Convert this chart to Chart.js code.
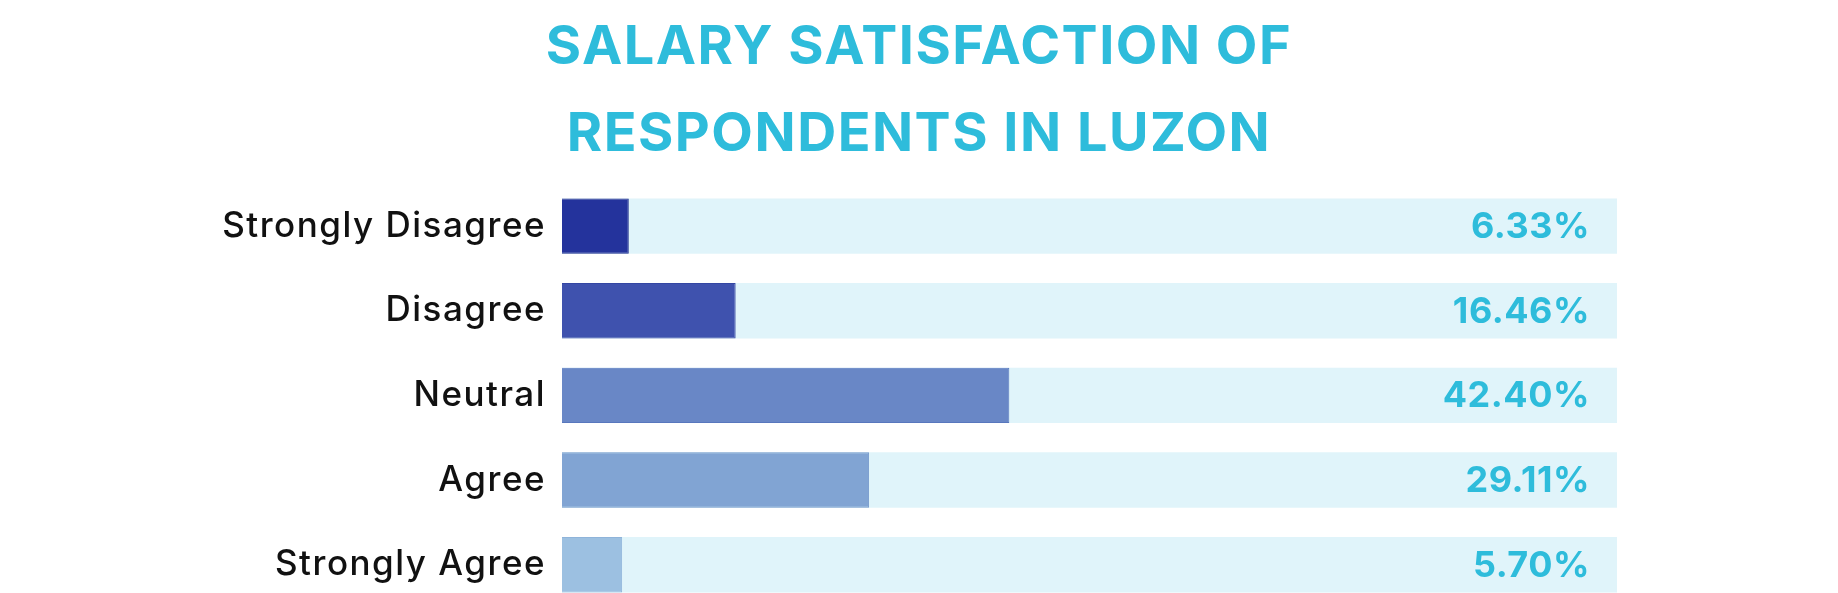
<!DOCTYPE html>
<html>
<head>
<meta charset="utf-8">
<script src="https://cdn.jsdelivr.net/npm/chart.js@4.4.1/dist/chart.umd.min.js"></script>
<style>
    html, body { margin: 0; padding: 0; background: #ffffff; overflow: hidden; }
    #clip { width: 1838px; height: 593px; overflow: hidden; position: relative; }
    #wrap { position: relative; width: 1838px; height: 644px; }
</style>
</head>
<body>
<div id="clip"><div id="wrap"><canvas id="barChart"></canvas></div></div>
<script>
// Datos del gráfico
const categories = ['Strongly Disagree', 'Disagree', 'Neutral', 'Agree', 'Strongly Agree'];
const shares = [6.33, 16.46, 42.40, 29.11, 5.70];
const trackMax = [100, 100, 100, 100, 100];
const titleLines = ['SALARY SATISFACTION OF', 'RESPONDENTS IN LUZON'];

const barColors = ['#24339c', '#3f52ae', '#6987c6', '#81a4d3', '#9cc0e1'];
const barBorders = ['#1d2b8c', '#3446a3', '#5877bd', '#7397cb', '#8fb4da'];
const accent = '#2ebcdb';

// Espaciado de letras para acercarse a la tipografía original
const spacing = {
    id: 'spacing',
    beforeDraw(chart) { chart.ctx.letterSpacing = '1.5px'; }
};

// Etiquetas de porcentaje al final de cada pista
const valueLabels = {
    id: 'valueLabels',
    afterDatasetsDraw(chart) {
        const ctx = chart.ctx;
        const meta = chart.getDatasetMeta(1);
        ctx.save();
        ctx.letterSpacing = '0.5px';
        ctx.font = '700 36px Inter';
        ctx.fillStyle = accent;
        ctx.textAlign = 'right';
        ctx.textBaseline = 'middle';
        meta.data.forEach((bar, i) => {
            ctx.fillText(shares[i].toFixed(2) + '%', chart.chartArea.right - 27, bar.y + 1);
        });
        ctx.restore();
    }
};

const chart = new Chart(document.getElementById('barChart'), {
    type: 'bar',
    data: {
        labels: categories,
        datasets: [{
            data: shares,
            backgroundColor: barColors,
            borderColor: barBorders,
            borderWidth: 1,
            order: 1
        }, {
            data: trackMax,
            backgroundColor: '#e0f4fa',
            borderWidth: 0,
            order: 2
        }]
    },
    options: {
        indexAxis: 'y',
        responsive: true,
        maintainAspectRatio: false,
        animation: false,
        layout: { autoPadding: false, padding: 0 },
        datasets: {
            bar: { grouped: false, barPercentage: 1, categoryPercentage: 0.655 }
        },
        plugins: {
            legend: { display: false },
            tooltip: { enabled: false },
            title: {
                display: true,
                text: titleLines,
                color: accent,
                font: { family: 'Inter', size: 54, weight: '700', lineHeight: 1.6 },
                padding: { top: 5, bottom: 6 }
            }
        },
        scales: {
            x: { display: false, min: 0, max: 100 },
            y: {
                grid: { display: false, drawTicks: false },
                border: { display: false },
                ticks: {
                    color: '#111111',
                    padding: 16,
                    font: { family: 'Inter', size: 35, weight: '500' }
                },
                afterFit(scale) { scale.width = 562; }
            },
            // eje vacío a la derecha para dejar el margen blanco
            yRight: {
                type: 'category',
                position: 'right',
                grid: { display: false, drawTicks: false },
                border: { display: false },
                ticks: { display: false },
                afterFit(scale) { scale.width = 221; }
            }
        }
    },
    plugins: [spacing, valueLabels]
});
</script>
</body>
</html>
